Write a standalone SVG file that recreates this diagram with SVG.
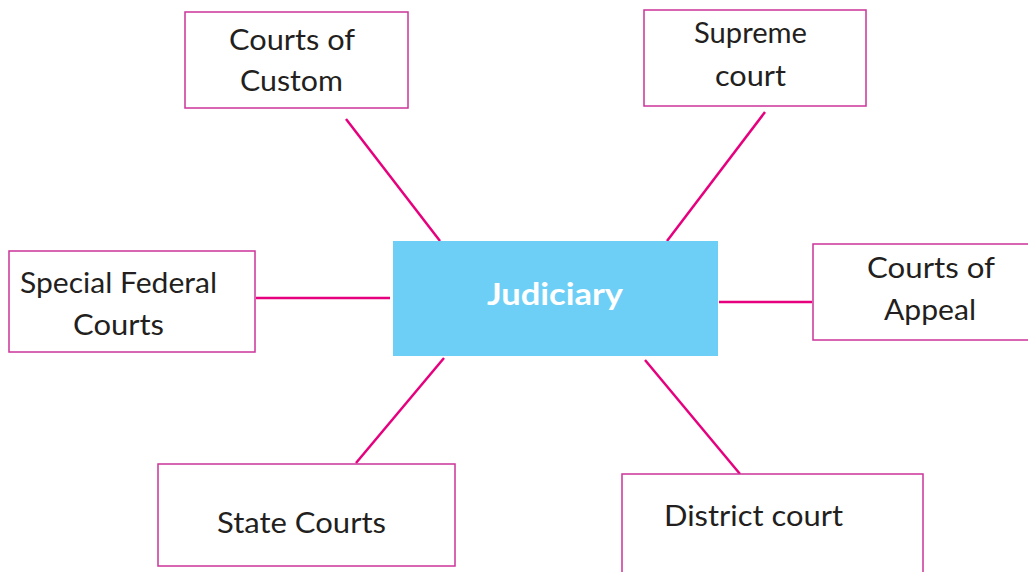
<svg xmlns="http://www.w3.org/2000/svg" width="1028" height="572" viewBox="0 0 1028 572">
<style>
.box{fill:#fff;stroke:#cc3399;stroke-width:1.5}
.t{font-family:Lato,"Liberation Sans",sans-serif;font-size:29px;fill:#231f20}
.c{stroke:#e6007e;stroke-width:2.5;fill:none}
.hub{fill:#6dcff6}
.ht{font-family:Lato,"Liberation Sans",sans-serif;font-size:31px;font-weight:bold;fill:#fff}
</style>
<rect width="1028" height="572" fill="#fff"/>
<g id="connectors">
<line class="c" x1="346" y1="119" x2="440" y2="241"/>
<line class="c" x1="765" y1="112" x2="667" y2="241"/>
<line class="c" x1="256" y1="298" x2="390" y2="298"/>
<line class="c" x1="719" y1="302" x2="812" y2="302"/>
<line class="c" x1="444" y1="358" x2="356" y2="463"/>
<line class="c" x1="645" y1="360" x2="740" y2="474"/>
</g>
<g id="judiciary">
<rect class="hub" x="393" y="241" width="325" height="115"/>
<text class="ht" x="487" y="305" textLength="136" lengthAdjust="spacingAndGlyphs">Judiciary</text>
</g>
<g id="courts-of-custom">
<rect class="box" x="185" y="12" width="223" height="96"/>
<text class="t" x="229" y="50" textLength="126" lengthAdjust="spacingAndGlyphs">Courts of</text>
<text class="t" x="240" y="91" textLength="103" lengthAdjust="spacingAndGlyphs">Custom</text>
</g>
<g id="supreme-court">
<rect class="box" x="644" y="10" width="222" height="96"/>
<text class="t" x="694" y="43" textLength="113" lengthAdjust="spacingAndGlyphs">Supreme</text>
<text class="t" x="715" y="86" textLength="71" lengthAdjust="spacingAndGlyphs">court</text>
</g>
<g id="special-federal-courts">
<rect class="box" x="9" y="251" width="246" height="101"/>
<text class="t" x="20" y="293" textLength="197" lengthAdjust="spacingAndGlyphs">Special Federal</text>
<text class="t" x="73" y="335" textLength="91" lengthAdjust="spacingAndGlyphs">Courts</text>
</g>
<g id="courts-of-appeal">
<rect class="box" x="813" y="244" width="220" height="96"/>
<text class="t" x="867" y="278" textLength="128" lengthAdjust="spacingAndGlyphs">Courts of</text>
<text class="t" x="884" y="320" textLength="92" lengthAdjust="spacingAndGlyphs">Appeal</text>
</g>
<g id="state-courts">
<rect class="box" x="158" y="464" width="297" height="102"/>
<text class="t" x="217" y="533" textLength="169" lengthAdjust="spacingAndGlyphs">State Courts</text>
</g>
<g id="district-court">
<rect class="box" x="622" y="474" width="301" height="110"/>
<text class="t" x="664" y="526" textLength="179" lengthAdjust="spacingAndGlyphs">District court</text>
</g>
</svg>
